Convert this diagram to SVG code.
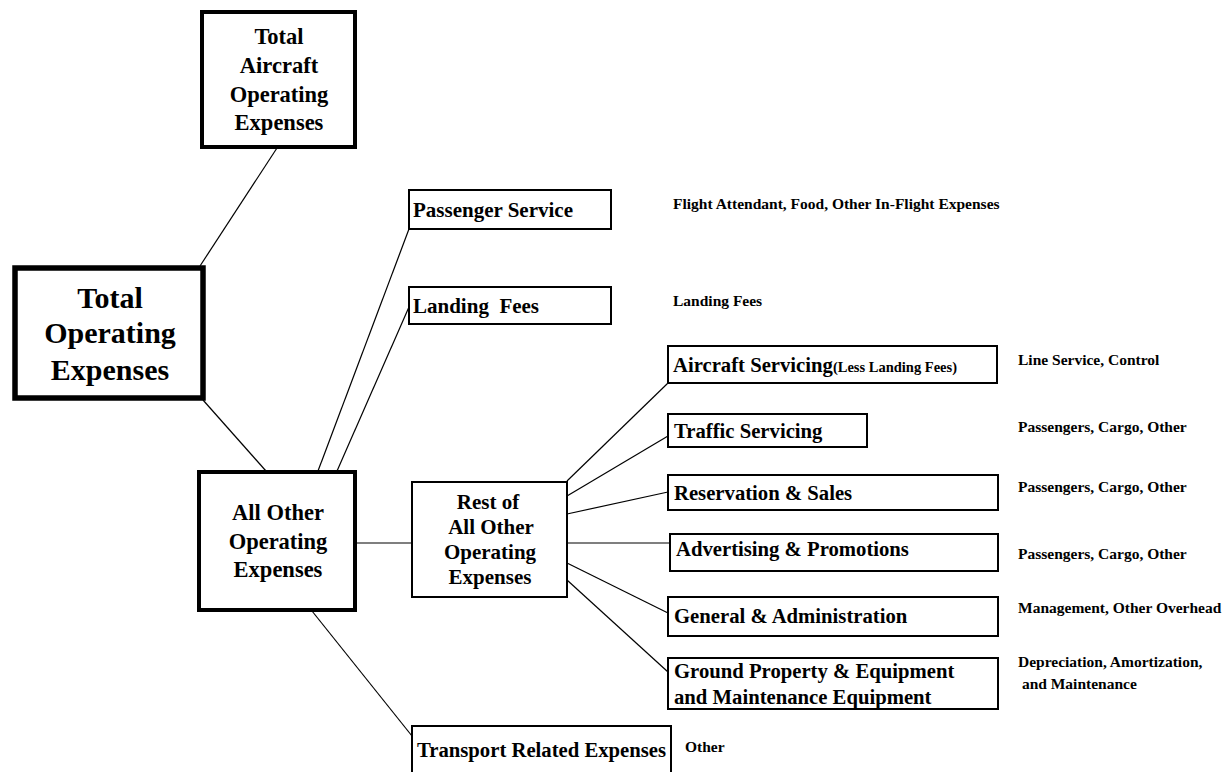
<svg xmlns="http://www.w3.org/2000/svg" width="1226" height="772" viewBox="0 0 1226 772">
<style>
text{font-family:"Liberation Serif","Times New Roman",serif;font-weight:bold;fill:#000}
.box{fill:#fff;stroke:#000}
.b2{stroke-width:2}
.b4{stroke-width:4}
.b5{stroke-width:5.5}
.c{text-anchor:middle}
.t30{font-size:30px}
.t23{font-size:22.5px}
.t21{font-size:21px}
.t20{font-size:20.7px}
.t14{font-size:15.5px}
.t13{font-size:14.5px}
#connectors line{stroke:#000;stroke-width:1.2}
</style>
<rect width="1226" height="772" fill="#fff"/>
<g id="connectors">
<line x1="277" y1="148" x2="200" y2="266"/>
<line x1="203" y1="400" x2="266" y2="471"/>
<line x1="318" y1="471" x2="409" y2="229"/>
<line x1="337" y1="471" x2="409" y2="307"/>
<line x1="356" y1="543" x2="412" y2="543"/>
<line x1="312" y1="611" x2="412" y2="736"/>
<line x1="567" y1="481" x2="668" y2="383"/>
<line x1="567" y1="496" x2="668" y2="436"/>
<line x1="567" y1="514" x2="668" y2="492"/>
<line x1="567" y1="543" x2="670" y2="543"/>
<line x1="567" y1="563" x2="668" y2="613"/>
<line x1="567" y1="580" x2="668" y2="672"/>
</g>
<g id="taoe">
<rect class="box b4" x="202" y="12" width="153" height="135"/>
<text class="c t23" x="279" y="44">Total</text>
<text class="c t23" x="279" y="73">Aircraft</text>
<text class="c t23" x="279" y="102">Operating</text>
<text class="c t23" x="279" y="130">Expenses</text>
</g>
<g id="toe">
<rect class="box b5" x="15" y="268" width="188" height="130"/>
<text class="c t30" x="110" y="308">Total</text>
<text class="c t30" x="110" y="343">Operating</text>
<text class="c t30" x="110" y="380">Expenses</text>
</g>
<g id="aooe">
<rect class="box b4" x="199" y="472" width="156" height="138"/>
<text class="c t23" x="278" y="520">All Other</text>
<text class="c t23" x="278" y="549">Operating</text>
<text class="c t23" x="278" y="577">Expenses</text>
</g>
<g id="passenger">
<rect class="box b2" x="409" y="190" width="202" height="39"/>
<text class="t21" x="413" y="217">Passenger Service</text>
<text class="t14" x="673" y="209">Flight Attendant, Food, Other In-Flight Expenses</text>
</g>
<g id="landing">
<rect class="box b2" x="409" y="287" width="202" height="37"/>
<text class="t21" x="413" y="313" xml:space="preserve">Landing  Fees</text>
<text class="t14" x="673" y="306">Landing Fees</text>
</g>
<g id="rest">
<rect class="box b2" x="412" y="482" width="155" height="115"/>
<text class="c t21" x="488" y="509">Rest of</text>
<text class="c t21" x="491" y="534">All Other</text>
<text class="c t21" x="490" y="559">Operating</text>
<text class="c t21" x="490" y="584">Expenses</text>
</g>
<g id="aircraft">
<rect class="box b2" x="668" y="346" width="329" height="37"/>
<text class="t20" x="673" y="372">Aircraft Servicing<tspan class="t13">(Less Landing Fees)</tspan></text>
<text class="t14" x="1018" y="365">Line Service, Control</text>
</g>
<g id="traffic">
<rect class="box b2" x="668" y="414" width="199" height="33"/>
<text class="t20" x="674" y="438">Traffic Servicing</text>
<text class="t14" x="1018" y="432">Passengers, Cargo, Other</text>
</g>
<g id="reservation">
<rect class="box b2" x="668" y="475" width="330" height="35"/>
<text class="t20" x="674" y="500">Reservation &amp; Sales</text>
<text class="t14" x="1018" y="492">Passengers, Cargo, Other</text>
</g>
<g id="advertising">
<rect class="box b2" x="670" y="534" width="328" height="37"/>
<text class="t20" x="676" y="556">Advertising &amp; Promotions</text>
<text class="t14" x="1018" y="559">Passengers, Cargo, Other</text>
</g>
<g id="general">
<rect class="box b2" x="668" y="597" width="330" height="39"/>
<text class="t20" x="674" y="623">General &amp; Administration</text>
<text class="t14" x="1018" y="613">Management, Other Overhead</text>
</g>
<g id="ground">
<rect class="box b2" x="668" y="658" width="330" height="51"/>
<text class="t20" x="674" y="678">Ground Property &amp; Equipment</text>
<text class="t20" x="674" y="704">and Maintenance Equipment</text>
<text class="t14" x="1018" y="667">Depreciation, Amortization,</text>
<text class="t14" x="1018" y="689" xml:space="preserve"> and Maintenance</text>
</g>
<g id="transport">
<rect class="box b2" x="412" y="726" width="259" height="60"/>
<text class="t20" x="417" y="757">Transport Related Expenses</text>
<text class="t14" x="685" y="752">Other</text>
</g>
</svg>
